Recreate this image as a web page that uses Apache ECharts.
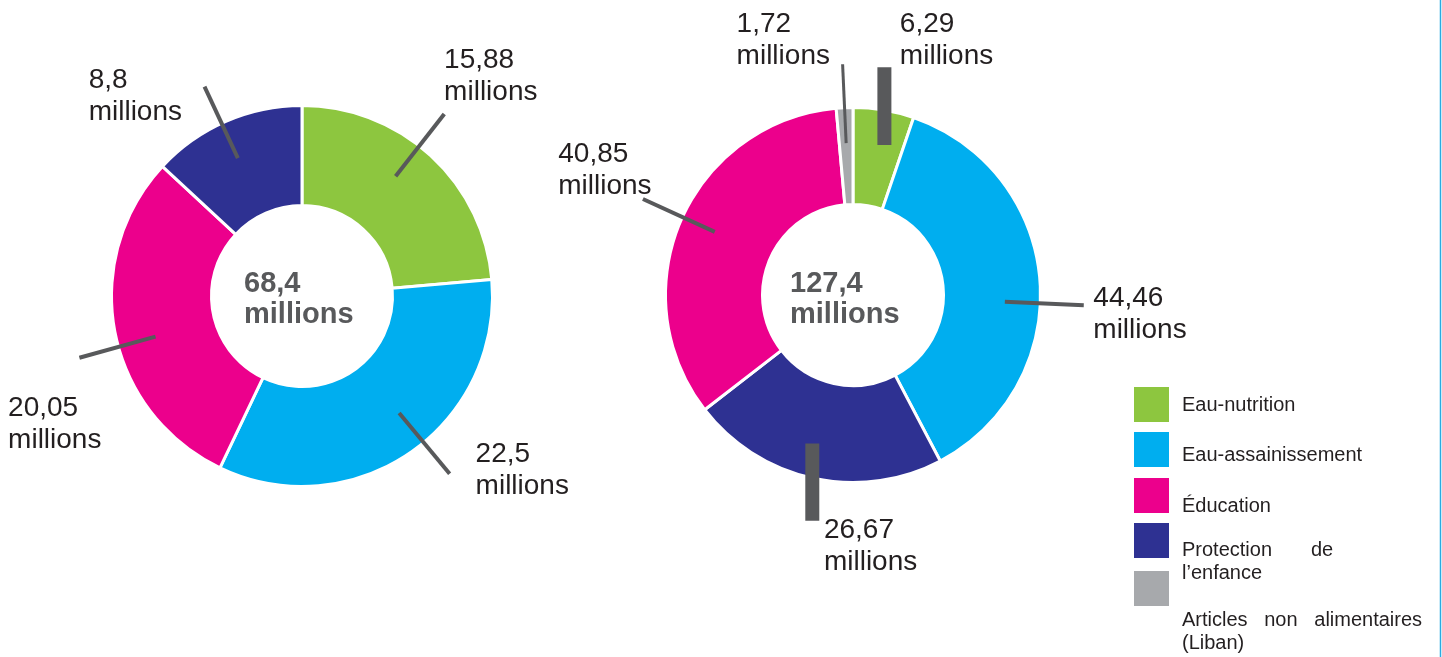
<!DOCTYPE html>
<html>
<head>
<meta charset="utf-8">
<script src="https://cdn.jsdelivr.net/npm/echarts@6/dist/echarts.min.js"></script>
<style>
html,body{margin:0;padding:0;background:#ffffff;}
#chart{width:1442px;height:657px;}
</style>
</head>
<body>
<div id="chart"></div>
<script>
// ---------- DATA ----------
const categories = ['Eau-nutrition', 'Eau-assainissement', 'Éducation', 'Protection de l’enfance', 'Articles non alimentaires (Liban)'];
const leftNames = ['Eau-nutrition', 'Eau-assainissement', 'Éducation', 'Protection de l’enfance'];
const leftValues = [15.88, 22.5, 20.05, 8.8];
const leftTotal = '68,4';
const rightNames = ['Eau-nutrition', 'Eau-assainissement', 'Protection de l’enfance', 'Éducation', 'Articles non alimentaires (Liban)'];
const rightValues = [6.29, 44.46, 26.67, 40.85, 1.72];
const rightTotal = '127,4';
const legendLabels = ['Eau-nutrition', 'Eau-assainissement', 'Éducation', 'Protection       de\nl’enfance', 'Articles   non   alimentaires\n(Liban)'];
const unit = 'millions';

// ---------- STYLE / LAYOUT ----------
const colors = {
  'Eau-nutrition': '#8dc63f',
  'Eau-assainissement': '#00aeef',
  'Éducation': '#ec008c',
  'Protection de l’enfance': '#2e3192',
  'Articles non alimentaires (Liban)': '#a7a9ac'
};
const FONT = '"Liberation Sans", Arial, Helvetica, sans-serif';
const lineColor = '#58595b';
const leftCenter = [302, 296];
const rightCenter = [853, 295];
// label offset from leader-line end: [dx to text left, dy to text middle]
const leftLabelOffsets = [[-14, -49], [42, -16], [-67, 85], [-121, 12]];
const rightLabelOffsets = [[9, -27], [10, 37], [20, 26], [-83, -32], [-106, -24]];
const leftLineWidths = [4, 4, 4, 4];
const rightLineWidths = [14, 4, 14, 4, 3];
// leader-line tweaks: rotation (degrees) around the pie centre, and vertical straightening
const leftLineRotate = [4.5, 5, 4.7, 1.4];
const leftLineVertical = [false, false, false, false];
const rightLineRotate = [0, -7, 0, -1, 0];
const rightLineVertical = [true, false, true, false, false];

const fmt = v => String(v).replace('.', ',');

function donut(names, values, center, outer) {
  return {
    type: 'pie',
    z: 2,
    center: center,
    radius: [90.5, outer],
    startAngle: 90,
    clockwise: true,
    avoidLabelOverlap: false,
    silent: true,
    emphasis: {disabled: true},
    label: {show: false},
    labelLine: {show: false},
    itemStyle: {borderColor: '#ffffff', borderWidth: 3},
    data: names.map((n, i) => ({name: n, value: values[i], itemStyle: {color: colors[n]}}))
  };
}

function rotatePt(p, c, deg) {
  const a = deg * Math.PI / 180;
  const dx = p[0] - c[0], dy = p[1] - c[1];
  const cos = Math.cos(a), sin = Math.sin(a);
  // screen y points down: positive deg = counter-clockwise on screen
  return [c[0] + dx * cos + dy * sin, c[1] - dx * sin + dy * cos];
}

function leaders(names, values, center, offsets, widths, rot, vert) {
  return {
    type: 'pie',
    z: 10,
    center: center,
    radius: [0, 152],
    startAngle: 90,
    clockwise: true,
    avoidLabelOverlap: false,
    silent: true,
    emphasis: {disabled: true},
    itemStyle: {color: 'rgba(0,0,0,0)', borderWidth: 0},
    label: {
      show: true,
      position: 'outside',
      formatter: p => fmt(p.value) + '\n' + unit,
      color: '#231f20',
      fontFamily: FONT,
      fontSize: 28,
      lineHeight: 32
    },
    labelLine: {show: true, length: 79, length2: 0, smooth: false, lineStyle: {color: lineColor, cap: 'butt'}},
    labelLayout: function (params) {
      const pts = params.labelLinePoints;
      if (!pts) return {};
      const i = params.dataIndex;
      const end = pts[1];
      const off = offsets[i];
      let p0 = rotatePt(pts[0], center, rot[i]);
      let p1 = rotatePt(pts[1], center, rot[i]);
      if (vert[i]) {
        const mx = (p0[0] + p1[0]) / 2;
        p0 = [mx, p0[1]];
        p1 = [mx, p1[1]];
      }
      return {
        x: end[0] + off[0],
        y: end[1] + off[1],
        align: 'left',
        verticalAlign: 'middle',
        labelLinePoints: [p0, p1]
      };
    },
    data: names.map((n, i) => ({
      name: n, value: values[i],
      labelLine: {lineStyle: {width: widths[i], color: lineColor}}
    }))
  };
}

// legend: one block per category (icon top, text vertical offset from icon centre)
const legendIconTops = [387, 432, 478, 523, 571];
const legendTextShift = [1, 6, 11.3, 21.7, 43.7];
const LEG_ICON = 35, LEG_LH = 23;
const legends = categories.map((name, i) => {
  const nLines = legendLabels[i].split('\n').length;
  const P = 2 * legendTextShift[i];
  const boxTop = LEG_ICON / 2 - (nLines * LEG_LH + P) / 2;
  return {
    data: [name],
    orient: 'vertical',
    left: 1134,
    top: legendIconTops[i] + Math.min(0, boxTop),
    padding: 0,
    itemWidth: LEG_ICON,
    itemHeight: LEG_ICON,
    icon: 'rect',
    selectedMode: false,
    itemStyle: {borderWidth: 0, borderColor: 'rgba(0,0,0,0)'},
    formatter: () => '{t|' + legendLabels[i] + '}',
    textStyle: {
      fontFamily: FONT, fontSize: 20, color: '#231f20', lineHeight: LEG_LH, padding: [P, 0, 0, 8],
      rich: {t: {fontFamily: FONT, fontSize: 20, color: '#231f20', lineHeight: LEG_LH}}
    }
  };
});

const chart = echarts.init(document.getElementById('chart'), null, {renderer: 'canvas'});
chart.setOption({
  backgroundColor: '#ffffff',
  animation: false,
  tooltip: {show: false},
  legend: legends,
  graphic: [
    {type: 'text', x: 244, y: 299, z: 100, style: {text: leftTotal + '\n' + unit, fill: '#58595b', font: 'bold 29px ' + FONT, lineHeight: 31, align: 'left', verticalAlign: 'middle'}},
    {type: 'text', x: 790, y: 299, z: 100, style: {text: rightTotal + '\n' + unit, fill: '#58595b', font: 'bold 29px ' + FONT, lineHeight: 31, align: 'left', verticalAlign: 'middle'}},
    {type: 'line', shape: {x1: 1440.5, y1: 0, x2: 1440.5, y2: 657}, style: {stroke: '#29abe2', lineWidth: 1.5}}
  ],
  series: [
    donut(leftNames, leftValues, leftCenter, 190.5),
    donut(rightNames, rightValues, rightCenter, 187.5),
    leaders(leftNames, leftValues, leftCenter, leftLabelOffsets, leftLineWidths, leftLineRotate, leftLineVertical),
    leaders(rightNames, rightValues, rightCenter, rightLabelOffsets, rightLineWidths, rightLineRotate, rightLineVertical)
  ]
});
</script>
</body>
</html>
